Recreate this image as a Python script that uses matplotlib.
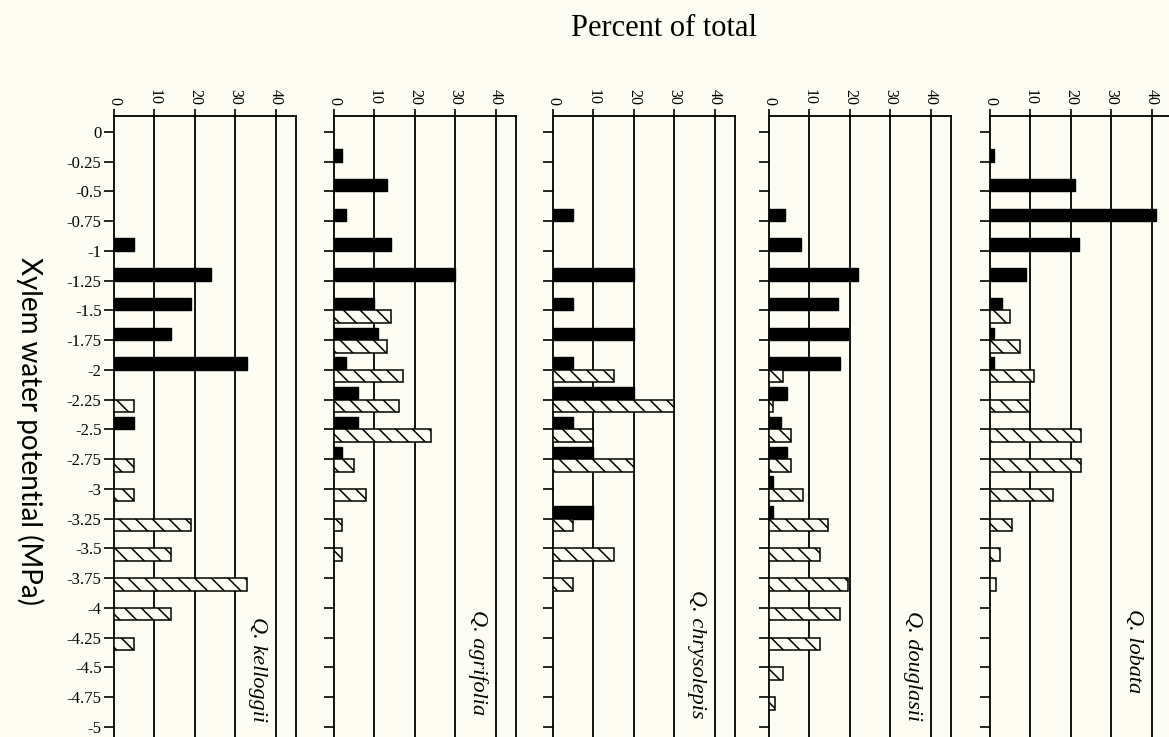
import numpy as np
import matplotlib
matplotlib.use("Agg")
import matplotlib.pyplot as plt

plt.rcParams['font.family'] = ['Liberation Serif', 'DejaVu Serif']
plt.rcParams['hatch.linewidth'] = 1.1

# water potential classes (MPa)
psi = [0, -0.25, -0.5, -0.75, -1, -1.25, -1.5, -1.75, -2, -2.25, -2.5,
       -2.75, -3, -3.25, -3.5, -3.75, -4, -4.25, -4.5, -4.75, -5]
psi_labels = ["0", "-0.25", "-0.5", "-0.75", "-1", "-1.25", "-1.5", "-1.75",
              "-2", "-2.25", "-2.5", "-2.75", "-3", "-3.25", "-3.5", "-3.75",
              "-4", "-4.25", "-4.5", "-4.75", "-5"]
pct_ticks = [0, 10, 20, 30, 40]

species = ["Q. kelloggii", "Q. agrifolia", "Q. chrysolepis",
           "Q. douglasii", "Q. lobata"]

# percent of total, one value per psi class (solid = predawn, hatched = midday)
kelloggii_pd = [0, 0, 0, 0, 5, 24, 19, 14, 33, 0, 5, 0, 0, 0, 0, 0, 0, 0, 0, 0, 0]
kelloggii_md = [0, 0, 0, 0, 0, 0, 0, 0, 0, 5, 0, 5, 5, 19, 14, 33, 14, 5, 0, 0, 0]

agrifolia_pd = [0, 2, 13, 3, 14, 30, 10, 11, 3, 6, 6, 2, 0, 0, 0, 0, 0, 0, 0, 0, 0]
agrifolia_md = [0, 0, 0, 0, 0, 0, 14, 13, 17, 16, 24, 5, 8, 2, 2, 0, 0, 0, 0, 0, 0]

chrysolepis_pd = [0, 0, 0, 5, 0, 20, 5, 20, 5, 20, 5, 10, 0, 10, 0, 0, 0, 0, 0, 0, 0]
chrysolepis_md = [0, 0, 0, 0, 0, 0, 0, 0, 15, 30, 10, 20, 0, 5, 15, 5, 0, 0, 0, 0, 0]

douglasii_pd = [0, 0, 0, 4, 8, 22, 17, 19.5, 17.5, 4.5, 3, 4.5, 1, 1, 0, 0, 0, 0, 0, 0, 0]
douglasii_md = [0, 0, 0, 0, 0, 0, 0, 0, 3.5, 1, 5.5, 5.5, 8.5, 14.5, 12.5, 19.5, 17.5, 12.5, 3.5, 1.5, 0]

lobata_pd = [0, 1, 21, 41, 22, 9, 3, 1, 1, 0, 0, 0, 0, 0, 0, 0, 0, 0, 0, 0, 0]
lobata_md = [0, 0, 0, 0, 0, 0, 5, 7.5, 11, 10, 22.5, 22.5, 15.5, 5.5, 2.5, 1.5, 0, 0, 0, 0, 0]

predawn = [kelloggii_pd, agrifolia_pd, chrysolepis_pd, douglasii_pd, lobata_pd]
midday = [kelloggii_md, agrifolia_md, chrysolepis_md, douglasii_md, lobata_md]

W, H = 1169, 737
bg = '#fdfdf3'
fig = plt.figure(figsize=(W / 100, H / 100), dpi=100, facecolor=bg)

lefts = [114, 334, 553, 769, 990]
label_y = [-4.52, -4.46, -4.39, -4.49, -4.36]
pw = 182
top_px = 116
bar_h = 0.105

for i, name in enumerate(species):
    ax = fig.add_axes([lefts[i] / W, 0, pw / W, (H - top_px) / H])
    ax.set_facecolor(bg)
    y = np.array(psi)
    pd_vals = np.array(predawn[i], dtype=float)
    md_vals = np.array(midday[i], dtype=float)
    m = pd_vals > 0
    ax.barh(y[m], pd_vals[m], height=bar_h, align='edge', color='black',
            edgecolor='black', linewidth=1, zorder=3)
    m = md_vals > 0
    ax.barh(y[m], md_vals[m], height=-bar_h, align='edge', color=bg,
            edgecolor='black', hatch='\\\\', linewidth=1.1, zorder=3)

    for g in [10, 20, 30, 40]:
        ax.axvline(g, color='black', lw=1.3, zorder=1)

    ax.set_xlim(0, 45)
    ax.set_ylim(-5.084, 0.134)
    ax.spines['bottom'].set_visible(False)
    for s in ['left', 'top', 'right']:
        ax.spines[s].set_linewidth(1.3)

    ax.xaxis.tick_top()
    ax.set_xticks(pct_ticks)
    ax.set_xticklabels([str(t) for t in pct_ticks], rotation=-90, fontsize=11.5)
    ax.tick_params(axis='x', direction='out', length=5, width=1.2, pad=3)

    ax.set_yticks(psi)
    if i == 0:
        ax.set_yticklabels(psi_labels, fontsize=12)
    else:
        ax.set_yticklabels([])
    ax.tick_params(axis='y', direction='out', length=7, width=1.2, pad=2)

    ax.text(35.6, label_y[i], name, rotation=-90, ha='center', va='center',
            fontsize=16, style='italic')

fig.text(664 / W, 1 - 28 / H, "Percent of total", ha='center', va='center',
         fontsize=22)
fig.text(30 / W, 1 - 431 / H, "Xylem water potential (MPa)", rotation=-90,
         ha='center', va='center', fontsize=20, family=['Lato', 'DejaVu Sans'])

fig.savefig("out.png", dpi=100, facecolor=bg)
